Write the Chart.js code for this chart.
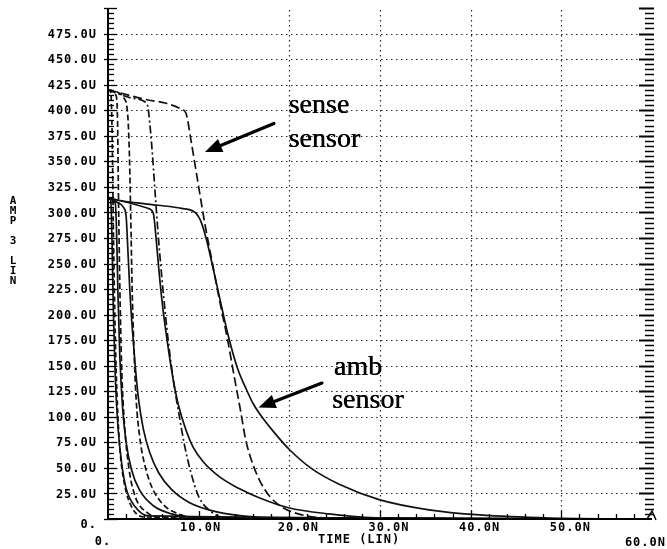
<!DOCTYPE html>
<html>
<head>
<meta charset="utf-8">
<script src="https://cdn.jsdelivr.net/npm/chart.js@4/dist/chart.umd.min.js"></script>
<style>
  html, body { margin: 0; padding: 0; background: #fff; }
  #wrap { position: relative; width: 667px; height: 549px; }
</style>
</head>
<body>
<div id="wrap"><canvas id="c" width="667" height="549"></canvas></div>
<script>
// Transient sensor currents (time in ns, current in uA)

// sense sensor family (start near 420 uA)
const senseFastAT = [0, 0.3, 0.45, 0.6, 0.8, 1.0, 1.3, 1.8, 2.6, 4, 60];
const senseFastAV = [420, 418, 380, 280, 180, 120, 70, 35, 12, 2, 0];
const senseFastBT = [0, 0.9, 1.05, 1.15, 1.3, 1.5, 1.8, 2.3, 3.0, 4.2, 6, 60];
const senseFastBV = [420, 414, 390, 320, 230, 150, 95, 50, 22, 7, 1, 0];
const senseSmallT = [0, 1.9, 2.2, 2.35, 2.5, 2.65, 2.85, 3.1, 3.5, 4.0, 4.8, 6.0, 7.5, 10, 60];
const senseSmallV = [420, 410, 392, 360, 300, 230, 170, 118, 80, 55, 32, 15, 6, 1, 0];
const senseMidT = [0, 2.5, 4.1, 4.4, 4.8, 5.2, 5.5, 5.9, 6.3, 6.7, 7.2, 7.8, 8.4, 9.1, 10.0, 11.4, 13, 60];
const senseMidV = [420, 412, 408, 403, 368, 319, 282, 240, 203, 170, 136, 104, 74, 47, 22, 7, 1, 0];
const senseWideT = [0, 1.3, 4.4, 6.3, 8.1, 8.6, 9.2, 10.0, 10.7, 11.5, 12.3, 13.2, 13.95, 14.6, 15.2, 16.0, 17.2, 18.8, 21.0, 24.4, 60];
const senseWideV = [420, 417, 410, 407, 401, 397, 368, 325, 288, 251, 214, 175, 138, 107, 77, 53, 30, 14, 5, 1, 0];

// amb sensor family (start near 314 uA)
const ambFastAT = [0, 0.3, 0.45, 0.6, 0.8, 1.1, 1.5, 2.0, 3.0, 4.5, 60];
const ambFastAV = [314, 312, 270, 200, 140, 90, 55, 30, 12, 3, 0];
const ambFastBT = [0, 0.8, 0.95, 1.1, 1.3, 1.6, 2.0, 2.6, 3.5, 5.0, 7, 10, 60];
const ambFastBV = [314, 309, 280, 220, 160, 110, 75, 48, 28, 13, 5, 1.5, 0];
const ambSmallT = [0, 1.0, 1.7, 2.0, 2.2, 2.4, 2.65, 3.0, 3.4, 3.9, 4.6, 5.6, 7.0, 9.0, 12, 16, 22, 60];
const ambSmallV = [314, 310, 305, 296, 262, 225, 190, 150, 115, 88, 65, 45, 29, 16, 7, 2, 0.3, 0];
const ambMidT = [0, 2.5, 4.4, 5.0, 5.3, 5.6, 6.0, 6.6, 7.2, 7.75, 8.6, 9.4, 10.5, 12.2, 14.4, 16.6, 19.9, 24.4, 30, 60];
const ambMidV = [314, 309, 304, 299, 275, 245, 210, 170, 136, 112, 87, 70, 56, 42, 30, 21, 11, 5, 1, 0];
const ambWideT = [0, 2.5, 5.5, 8.1, 9.6, 10.3, 10.9, 11.6, 12.4, 13.3, 14.3, 15.2, 16.0, 16.8, 18.3, 20.0, 22.5, 25.5, 29.9, 35.4, 41, 48.7, 60];
const ambWideV = [314, 310, 307, 304, 300, 290, 272, 245, 213, 178, 147, 128, 113, 102, 85, 68, 49, 34, 19, 9, 4, 1, 0];

// axis ticks and labels
const yTickValues = [25, 50, 75, 100, 125, 150, 175, 200, 225, 250, 275, 300, 325, 350, 375, 400, 425, 450, 475];
const yTickLabels = ['25.0U', '50.0U', '75.0U', '100.0U', '125.0U', '150.0U', '175.0U', '200.0U', '225.0U', '250.0U',
                     '275.0U', '300.0U', '325.0U', '350.0U', '375.0U', '400.0U', '425.0U', '450.0U', '475.0U'];
const xTickValues = [10, 20, 30, 40, 50];
const xTickLabels = ['10.0N', '20.0N', '30.0N', '40.0N', '50.0N'];
const xGridValues = [20, 30, 40, 50];
const xMinLabel = '0.';
const xMaxLabel = '60.0N';
const yMinLabel = '0.';
const xTitle = 'TIME (LIN)';
const yTitle = ['A', 'M', 'P', '', '3', '', 'L', 'I', 'N'];

const pts = (t, v) => t.map((x, i) => ({ x, y: v[i] }));

function curve(t, v, dash) {
  return {
    data: pts(t, v),
    borderColor: '#111',
    borderWidth: 1.7,
    borderDash: dash,
    pointRadius: 0,
    fill: false,
    cubicInterpolationMode: 'monotone'
  };
}

const datasets = [
  curve(ambFastAT, ambFastAV, []),
  curve(ambFastBT, ambFastBV, []),
  curve(ambSmallT, ambSmallV, []),
  curve(ambMidT, ambMidV, []),
  curve(ambWideT, ambWideV, []),
  curve(senseFastAT, senseFastAV, [5, 3]),
  curve(senseFastBT, senseFastBV, [6, 3]),
  curve(senseSmallT, senseSmallV, [6, 3]),
  curve(senseMidT, senseMidV, [8, 3, 2, 3]),
  curve(senseWideT, senseWideV, [9, 4])
];

const PLOT_FONT = 'bold 12px "DejaVu Sans Mono", monospace';

const plotterAxes = {
  id: 'plotterAxes',
  beforeDatasetsDraw(chart) {
    const { ctx, scales: { x, y } } = chart;
    const x0 = x.getPixelForValue(0), x1 = x.getPixelForValue(60);
    const y0 = y.getPixelForValue(0), y1 = y.getPixelForValue(500);
    ctx.save();
    ctx.strokeStyle = '#2a2a2a';
    ctx.lineWidth = 1.2;
    ctx.setLineDash([1.5, 3.5]);
    yTickValues.forEach(v => {
      const py = Math.round(y.getPixelForValue(v)) + 0.5;
      ctx.beginPath(); ctx.moveTo(x0 + 8, py); ctx.lineTo(x1 - 12, py); ctx.stroke();
    });
    xGridValues.forEach(t => {
      const px = Math.round(x.getPixelForValue(t)) + 0.5;
      ctx.beginPath(); ctx.moveTo(px, y1 + 2); ctx.lineTo(px, y0 - 4); ctx.stroke();
    });
    ctx.restore();
  },
  afterDatasetsDraw(chart) {
    const { ctx, scales: { x, y } } = chart;
    const x0 = x.getPixelForValue(0), x1 = x.getPixelForValue(60);
    const y0 = y.getPixelForValue(0), y1 = y.getPixelForValue(500);
    ctx.save();
    ctx.strokeStyle = '#000';
    ctx.fillStyle = '#000';
    // axis lines
    ctx.lineWidth = 2;
    ctx.beginPath(); ctx.moveTo(x0, y1); ctx.lineTo(x0, y0); ctx.lineTo(x1, y0); ctx.stroke();
    // arrow tip at end of time axis
    ctx.lineWidth = 1.5;
    ctx.beginPath(); ctx.moveTo(x1 - 5, y0); ctx.lineTo(x1, y0 - 8); ctx.lineTo(x1 + 4, y0 + 1); ctx.stroke();
    // minor / major ticks on both current axes
    for (let v = 0; v <= 500; v += 5) {
      const py = Math.round(y.getPixelForValue(v)) + 0.5;
      const major = v % 25 === 0;
      ctx.lineWidth = 1.3;
      ctx.beginPath();
      ctx.moveTo(major ? x0 - 4 : x0, py); ctx.lineTo(x0 + (major ? 9 : 6), py);
      ctx.stroke();
      if (v > 0) {
        ctx.lineWidth = major ? 2 : 1.5;
        ctx.beginPath();
        ctx.moveTo(x1 - (major ? 13 : 7), py); ctx.lineTo(x1 + 2, py);
        ctx.stroke();
      }
    }
    // ticks on time axis
    for (let t = 2; t < 60; t += 2) {
      const px = Math.round(x.getPixelForValue(t)) + 0.5;
      const major = t % 10 === 0;
      ctx.lineWidth = 1.3;
      ctx.beginPath(); ctx.moveTo(px, y0); ctx.lineTo(px, y0 - (major ? 8 : 5)); ctx.stroke();
    }
    // tick labels
    ctx.font = PLOT_FONT;
    ctx.letterSpacing = '1px';
    ctx.textBaseline = 'middle';
    ctx.textAlign = 'right';
    yTickValues.forEach((v, i) => {
      ctx.fillText(yTickLabels[i], x0 - 11, y.getPixelForValue(v) + 1);
    });
    ctx.fillText(yMinLabel, x0 - 11, y0 + 6);
    ctx.textAlign = 'center';
    xTickValues.forEach((t, i) => {
      ctx.fillText(xTickLabels[i], x.getPixelForValue(t) + (i === 0 ? 2 : 9), y0 + 9);
    });
    ctx.fillText(xMinLabel, x0 - 5, y0 + 23);
    ctx.textAlign = 'right';
    ctx.fillText(xMaxLabel, 666, y0 + 24);
    ctx.textAlign = 'center';
    ctx.fillText(xTitle, x.getPixelForValue(27.7), y0 + 21);
    // vertical axis title, one character per row
    ctx.font = 'bold 11px "DejaVu Sans Mono", monospace';
    ctx.letterSpacing = '0px';
    yTitle.forEach((ch, i) => { if (ch) ctx.fillText(ch, 13, 201 + i * 10); });
    ctx.restore();
  }
};

// annotation text and arrows, placed in data units
const notes = [
  { text: 'sense', t: 19.9, v: 397 },
  { text: 'sensor', t: 19.9, v: 364 },
  { text: 'amb', t: 24.9, v: 141 },
  { text: 'sensor', t: 24.7, v: 109 }
];
const arrows = [
  { from: [18.3, 387], to: [10.7, 359] },
  { from: [23.6, 133], to: [16.6, 109] }
];

const notePlugin = {
  id: 'notes',
  afterDraw(chart) {
    const { ctx, scales: { x, y } } = chart;
    ctx.save();
    ctx.fillStyle = '#000';
    ctx.strokeStyle = '#000';
    ctx.font = '28px "Liberation Serif", "Times New Roman", serif';
    ctx.textAlign = 'left';
    ctx.textBaseline = 'alphabetic';
    notes.forEach(n => {
      const px = x.getPixelForValue(n.t), py = y.getPixelForValue(n.v);
      // a second pass half a pixel over gives the heavier printed stroke
      ctx.fillText(n.text, px, py);
      ctx.fillText(n.text, px + 0.5, py);
    });
    arrows.forEach(a => {
      const fx = x.getPixelForValue(a.from[0]), fy = y.getPixelForValue(a.from[1]);
      const tx = x.getPixelForValue(a.to[0]), ty = y.getPixelForValue(a.to[1]);
      const ang = Math.atan2(ty - fy, tx - fx);
      const len = 17, half = 7;
      const bx = tx - len * Math.cos(ang), by = ty - len * Math.sin(ang);
      ctx.lineWidth = 3.2;
      ctx.lineCap = 'round';
      ctx.beginPath(); ctx.moveTo(fx, fy); ctx.lineTo(bx, by); ctx.stroke();
      ctx.beginPath();
      ctx.moveTo(tx, ty);
      ctx.lineTo(bx + half * Math.sin(ang), by - half * Math.cos(ang));
      ctx.lineTo(bx - half * Math.sin(ang), by + half * Math.cos(ang));
      ctx.closePath();
      ctx.fill();
    });
    ctx.restore();
  }
};

new Chart(document.getElementById('c'), {
  type: 'line',
  data: { datasets },
  options: {
    responsive: false,
    animation: false,
    devicePixelRatio: 1,
    layout: { padding: { left: 108, right: 15, top: 8, bottom: 30 } },
    plugins: { legend: { display: false }, tooltip: { enabled: false } },
    scales: {
      x: { type: 'linear', min: 0, max: 60, display: false },
      y: { type: 'linear', min: 0, max: 500, display: false }
    }
  },
  plugins: [plotterAxes, notePlugin]
});
</script>
</body>
</html>
